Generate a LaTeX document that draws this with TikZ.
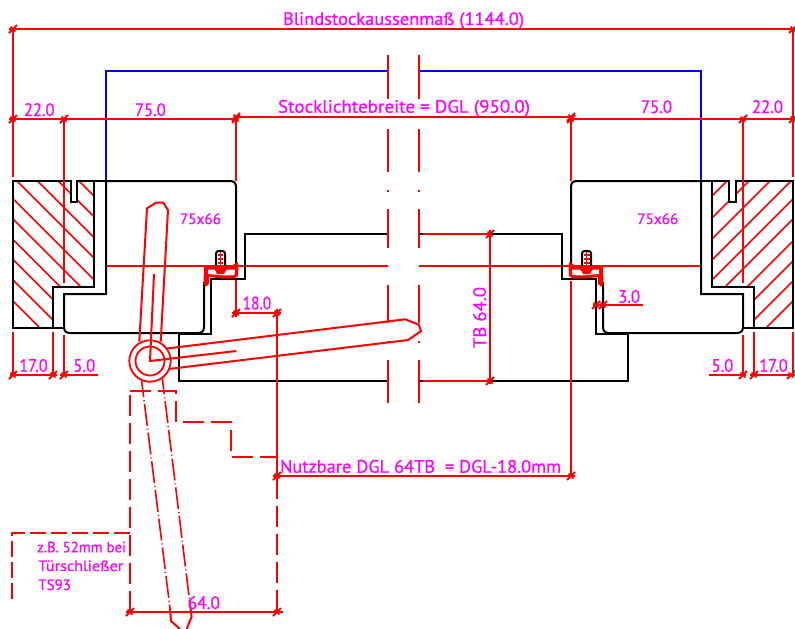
\documentclass[tikz,border=0pt]{standalone}
\usepackage{fontspec}
\setmainfont{PT Sans}
\usepackage{graphicx}
\definecolor{mag}{RGB}{255,0,255}
\definecolor{cadred}{RGB}{255,0,0}
\definecolor{cadblue}{RGB}{0,0,255}
\newsavebox\lbbox
\newcommand\fitw[2]{\sbox\lbbox{\addfontfeature{FakeBold=0.7}#2}\pgfmathsetmacro\lbratio{#1/\the\wd\lbbox}\scalebox{\lbratio}[1]{\usebox\lbbox}}
\newcommand\dtick[2]{\draw[dimline,line width=2pt] (#1-4,#2+4)--(#1+4,#2-4); \draw[dimline,line width=1.5pt] (#1-2.5,#2-2.5)--(#1+2.5,#2+2.5);}
\newcommand\sealpart{%
  \fill[cadred] (204,266) -- (232,265.5) -- (237.5,262) -- (238.5,266) -- (238,276) -- (234,278.5) -- (222,278.5) -- (209,277) -- (209,284) -- (206,286.5) -- (203.5,284) -- cycle;
  \fill[white] (208,269.5) -- (214,269.5) -- (219,273) -- (222,273) -- (228,269.5) -- (235,269.5) -- (234.5,275) -- (226,275.5) -- (208,274) -- cycle;
  \fill[cadred] (214,268) -- (227,268) -- (224,274) -- (217,274) -- cycle;
  \draw[blackline,rounded corners=2.5pt] (216,266) -- (216,251) -- (225,251) -- (225,266);
  \draw[cadred,line width=2pt] (217.5,254.5)--(223.2,254.5) (217.5,258.5)--(223.2,258.5) (217.5,262.5)--(223.2,262.5);
  \draw[cadred,line width=1.4pt] (220.3,252)--(220.3,270);
}
\tikzset{
  blackline/.style={draw=black,line width=2pt,line join=miter},
  redline/.style={draw=cadred,line width=2pt},
  thinred/.style={draw=cadred,line width=1.4pt},
  dimline/.style={draw=cadred,line width=2pt},
  hatchline/.style={draw=cadred,line width=1.6pt},
  blueline/.style={draw=cadblue,line width=2pt},
  dashout/.style={draw=cadred,line width=2pt,dash pattern=on 21pt off 7pt},
  dashdot/.style={draw=cadred,line width=1.6pt,dash pattern=on 22pt off 3pt on 1pt off 2.9pt,dash phase=5.5pt},
  lbl/.style={text=mag,inner sep=0pt,outer sep=0pt,anchor=base west,font=\fontsize{18}{20}\selectfont},
  lblsmall/.style={lbl,font=\fontsize{15}{17}\selectfont},
}
\begin{document}
\begin{tikzpicture}[x=1pt,y=-1pt]
\useasboundingbox (0,0) rectangle (795,629);
% hatching
\begin{scope}
\clip (13,181) -- (71,181) -- (71,202) -- (77,202) -- (77,181) -- (94,181) -- (94,287) -- (53,287) -- (53,328) -- (13,328) -- cycle;
\foreach \c in {102,122.7,143.4,164.1,185.8,206,226.5,246.5,267,288}
  \draw[hatchline] (0,\c) -- (200,\c+200);
\end{scope}
\begin{scope}
\clip (712,181) -- (729,181) -- (729,202) -- (736,202) -- (736,181) -- (793,181) -- (793,328) -- (754,328) -- (754,287) -- (712,287) -- cycle;
\foreach \c in {908,930,951,972,992,1012,1034,1054,1074,1094}
  \draw[hatchline] (795,\c-795) -- (600,\c-600);
\end{scope}
% blue outline
\draw[blueline] (106,181) -- (106,71) -- (388,71);
\draw[blueline] (419,71) -- (701,71) -- (701,181);
% red centre line
\draw[thinred] (106,266) -- (388,266);
\draw[thinred] (419,266) -- (701,266);
% frames
\draw[blackline] (64,328) -- (13,328) -- (13,181) -- (71,181) -- (71,202) -- (77,202) -- (77,181) -- (106,181);
\draw[blackline] (94,181) -- (94,287) -- (53,287) -- (53,328);
\draw[blackline] (743,328) -- (793,328) -- (793,181) -- (736,181) -- (736,202) -- (729,202) -- (729,181) -- (701,181);
\draw[blackline] (712,181) -- (712,287) -- (754,287) -- (754,328);
% stock profiles
\draw[blackline] (236,266) -- (236,187) .. controls (236,183) and (234,181) .. (230,181) -- (106,181) -- (106,294) -- (64,294) -- (64,327) .. controls (64,331) and (66,333) .. (70,333) -- (198,333) .. controls (202,333) and (204,331) .. (204,327) -- (204,282);
\draw[blackline] (571,266) -- (571,187) .. controls (571,183) and (573,181) .. (577,181) -- (701,181) -- (701,294) -- (743,294) -- (743,327) .. controls (743,331) and (741,333) .. (737,333) -- (609,333) .. controls (605,333) and (603,331) .. (603,327) -- (603,282);
% door leaf
\draw[blackline] (388,234) -- (245,234) -- (245,279) -- (211,279) -- (211,334) -- (179,334) -- (179,381) -- (388,381);
\draw[blackline] (490,234) -- (562,234) -- (562,279) -- (596,279) -- (596,334) -- (628,334) -- (628,381) -- (490,381);
\draw[blackline] (419,234) -- (423,234) (419,381) -- (423,381);
% seals
\sealpart
\begin{scope}[xshift=807pt,xscale=-1]
\sealpart
\end{scope}
% break lines
\foreach \x in {388,419}{
  \draw[redline] (\x,54.7) -- (\x,99.3) (\x,129) -- (\x,172.3) (\x,209.3) -- (\x,247.7) (\x,285) -- (\x,322.5) (\x,360) -- (\x,403.3);
  \draw[redline] (\x,190) -- (\x,191.5) (\x,341) -- (\x,342.5);
}
% door closer
\draw[redline] (139.3,341.7) -- (147,208.3) -- (156,202.7) -- (163.3,202.7) -- (168,210) -- (160.7,341.7);
\draw[redline] (167,348.5) -- (405.3,319.3) -- (418.7,324.7) -- (421,331) -- (408.3,340) -- (168.5,369);
\draw[redline] (154,274) -- (150,361) -- (236.3,351);
\node[circle,draw=cadred,line width=1.8pt,minimum size=41.4pt,inner sep=0pt] (hingeA) at (150,361) {};
\node[circle,draw=cadred,line width=1.8pt,minimum size=29pt,inner sep=0pt] (hingeB) at (150,361) {};
\draw[dashdot] (141.6,380.7) -- (170,608);
\draw[dashdot] (162.3,378) -- (189.5,600);
\draw[redline] (170,608) -- (171,621) -- (180,629);
\draw[redline] (189.5,600) -- (191.6,616.7) -- (186.7,629);
% dashed door closer outline
\draw[dashout] (130,612) -- (130,391);
\draw[dashout] (130,391) -- (176,391) -- (176,422) -- (231,422) -- (231,457) -- (277,457);
\draw[dashout] (277,478) -- (277,612);
\draw[dashout,dash pattern=on 16pt off 5pt] (12,599) -- (12,533) -- (130,533);
% dimension: overall
\draw[dimline] (9,29) -- (797,29);
\draw[dimline] (13,29) -- (13,177);
\draw[dimline] (793,29) -- (793,177);
\dtick{13}{29}\dtick{793}{29}
% dimension: second row
\draw[dimline] (9,119) -- (236,119);
\draw[dimline] (571,119) -- (797,119);
\draw[dimline] (236,117) -- (571,117);
\draw[dimline] (64,119) -- (64,283);
\draw[dimline] (743,119) -- (743,283);
\draw[dimline] (236,117) -- (236,181);
\draw[dimline] (571,117) -- (571,181);
\dtick{13}{119}\dtick{64}{119}\dtick{236}{119}\dtick{236}{117}
\dtick{571}{119}\dtick{571}{117}\dtick{743}{119}\dtick{793}{119}
% bottom small dimensions
\draw[dimline] (10,375) -- (57,375) (60,375) -- (98,375);
\draw[dimline] (13,332) -- (13,375) (53,332) -- (53,375) (64,335) -- (64,375);
\dtick{13}{375}\dtick{53}{375}\dtick{64}{375}
\draw[dimline] (709,375) -- (746,375) (750,375) -- (795,375);
\draw[dimline] (743,335) -- (743,375) (754,332) -- (754,375) (793,332) -- (793,375);
\dtick{743}{375}\dtick{754}{375}\dtick{791}{375}
% 18.0 dimension
\draw[dimline] (236,280) -- (236,317);
\draw[dimline] (232,313) -- (281,313);
\draw[dimline] (277,309) -- (277,476);
\dtick{236}{313}\dtick{277}{313}
% usable width
\draw[dimline] (273,476) -- (575,476);
\draw[dimline] (571,281) -- (571,476);
\dtick{277}{476}\dtick{571}{476}
% TB 64
\draw[dimline] (423,234) -- (490,234) (423,381) -- (490,381);
\draw[dimline] (490,230) -- (490,384);
\dtick{490}{234}\dtick{490}{381}
% 3.0
\draw[dimline] (593,305) -- (643,305);
\dtick{596}{305}\dtick{603}{305}
% 64.0
\draw[dimline,line width=2.4pt] (126,612) -- (283,612);
\dtick{130}{612}\dtick{277}{612}
% labels
\node[lbl] (t1) at (283,25) {\fitw{241}{Blindstockaussenmaß (1144.0)}};
\node[lbl] (t2) at (278,112.7) {\fitw{252}{Stocklichtebreite = DGL (950.0)}};
\node[lbl] (t3) at (24,116) {\fitw{30.5}{22.0}};
\node[lbl] (t4) at (135,116) {\fitw{30.7}{75.0}};
\node[lbl] (t5) at (641,113) {\fitw{31}{75.0}};
\node[lbl] (t6) at (752,113) {\fitw{31}{22.0}};
\node[lblsmall] (t7) at (180,224) {\fitw{41}{75x66}};
\node[lblsmall] (t8) at (637.3,224) {\fitw{41}{75x66}};
\node[lbl] (t9) at (242.7,309.3) {\fitw{28.5}{18.0}};
\node[lbl] (t10) at (19.3,371.7) {\fitw{28.4}{17.0}};
\node[lbl] (t11) at (73.3,371.7) {\fitw{22}{5.0}};
\node[lbl] (t12) at (711.7,371.7) {\fitw{21.6}{5.0}};
\node[lbl] (t13) at (759.3,371.7) {\fitw{28.4}{17.0}};
\node[lbl] (t14) at (618.3,302.7) {\fitw{21.7}{3.0}};
\node[lbl] (t15) at (280,472.7) {\fitw{281}{Nutzbare DGL 64TB\ \ = DGL-18.0mm}};
\node[lbl] (t16) at (187.7,609) {\fitw{32.3}{64.0}};
\node[lbl,rotate=90] (t17) at (486,348) {\fitw{61}{TB 64.0}};
\node[lblsmall] (t18) at (37.3,552.3) {\fitw{88.7}{z.B. 52mm bei}};
\node[lblsmall] (t19) at (38.3,571) {\fitw{85}{Türschließer}};
\node[lblsmall] (t20) at (38.3,590) {\fitw{32.7}{TS93}};
\end{tikzpicture}
\end{document}
